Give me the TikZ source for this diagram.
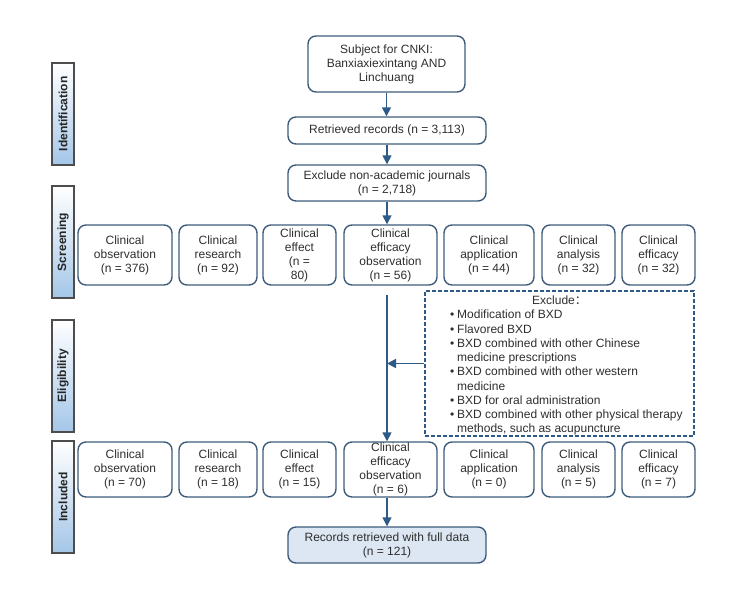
\documentclass[tikz,border=0pt]{standalone}
\usepackage{fontspec}
\setmainfont{Liberation Sans}
\newfontfamily\cjk{Noto Sans CJK SC}
\usetikzlibrary{arrows.meta,calc}
\definecolor{bordc}{HTML}{3E5C7A}
\definecolor{arrc}{HTML}{2E5A87}
\definecolor{txtc}{HTML}{2E2E2E}
\definecolor{fillb}{HTML}{DCE7F3}
\definecolor{labb}{HTML}{A4C6E8}
\definecolor{labd}{HTML}{4D4D4D}
\begin{document}
\begin{tikzpicture}[x=1pt,y=-1pt,
  box/.style={draw=bordc, line width=1.4pt, rounded corners=8pt, align=center,
    inner sep=0pt, text=txtc, font=\fontsize{12}{14}\selectfont},
  srow/.style={box, minimum height=60pt},
  irow/.style={box, minimum height=55pt},
  arr/.style={draw=arrc, line width=1.6pt, -{Triangle[length=9pt,width=9pt]}},
  side/.style={draw=labd, line width=1.4pt, top color=white, bottom color=labb,
    minimum width=22pt, minimum height=112pt, inner sep=0pt,
    font=\bfseries\fontsize{12}{14}\selectfont, text=black!85},
  xtext/.style={inner sep=0pt, text=txtc, font=\fontsize{12}{14.25}\selectfont}]
\useasboundingbox (0,0) rectangle (730,601);

% side labels
\node[side, minimum height=102pt] (lid) at (63,114) {\rotatebox{90}{Identification}};
\node[side] (lsc) at (63,242) {\rotatebox{90}{Screening}};
\node[side] (lel) at (63,376) {\rotatebox{90}{Eligibility}};
\node[side] (lin) at (63,497) {\rotatebox{90}{Included}};

% top chain
\node[box, minimum width=157pt, minimum height=56pt] (subj) at (386.5,64)
  {Subject for CNKI:\\Banxiaxiexintang AND\\Linchuang};
\node[box, minimum width=198pt, minimum height=27pt] (ret) at (387,130.5)
  {Retrieved records (n = 3,113)};
\node[box, minimum width=198pt, minimum height=36pt] (exc) at (387,183)
  {Exclude non-academic journals\\(n = 2,718)};

% screening row
\node[srow, minimum width=94pt] (s1) at (125,255) {Clinical\\observation\\(n = 376)};
\node[srow, minimum width=78pt] (s2) at (218,255) {Clinical\\research\\(n = 92)};
\node[srow, minimum width=73pt] (s3) at (299.5,255) {Clinical\\effect\\(n =\\80)};
\node[srow, minimum width=93pt] (s4) at (390.5,255) {Clinical\\efficacy\\observation\\(n = 56)};
\node[srow, minimum width=90pt] (s5) at (489,255) {Clinical\\application\\(n = 44)};
\node[srow, minimum width=73pt] (s6) at (578.5,255) {Clinical\\analysis\\(n = 32)};
\node[srow, minimum width=73pt] (s7) at (658.5,255) {Clinical\\efficacy\\(n = 32)};

% exclusion box
\node[draw=arrc, line width=1.3pt, dash pattern=on 4pt off 2pt,
  minimum width=269pt, minimum height=145pt, inner sep=0pt] (xbox) at (559.5,363.5) {};
\node[xtext] (xtitle) at (559.5,300) {Exclude{\cjk ：}};
\node[xtext, anchor=north west, align=left] (xlist) at (450,310)
  {\makebox[7pt][l]{•}Modification of BXD\\
   \makebox[7pt][l]{•}Flavored BXD\\
   \makebox[7pt][l]{•}BXD combined with other Chinese\\
   \hspace*{7pt}medicine prescriptions\\
   \makebox[7pt][l]{•}BXD combined with other western\\
   \hspace*{7pt}medicine\\
   \makebox[7pt][l]{•}BXD for oral administration\\
   \makebox[7pt][l]{•}BXD combined with other physical therapy\\
   \hspace*{7pt}methods, such as acupuncture};

% included row
\node[irow, minimum width=94pt] (i1) at (125,469.5) {Clinical\\observation\\(n = 70)};
\node[irow, minimum width=78pt] (i2) at (218,469.5) {Clinical\\research\\(n = 18)};
\node[irow, minimum width=73pt] (i3) at (299.5,469.5) {Clinical\\effect\\(n = 15)};
\node[irow, minimum width=93pt] (i4) at (390.5,469.5) {Clinical\\efficacy\\observation\\(n = 6)};
\node[irow, minimum width=90pt] (i5) at (489,469.5) {Clinical\\application\\(n = 0)};
\node[irow, minimum width=73pt] (i6) at (578.5,469.5) {Clinical\\analysis\\(n = 5)};
\node[irow, minimum width=73pt] (i7) at (658.5,469.5) {Clinical\\efficacy\\(n = 7)};

% final box
\node[box, fill=fillb, minimum width=198pt, minimum height=36pt] (fin) at (387,545)
  {Records retrieved with full data\\(n = 121)};

% connectors
\draw[arr] (subj.south) -- (subj.south |- ret.north);
\draw[arr] (ret.south) -- (ret.south |- exc.north);
\draw[arr] (exc.south) -- (exc.south |- s4.north);
\draw[arr, shorten <=9pt] (exc.south |- s4.south) -- (exc.south |- i4.north);
\draw[arr] (xbox.west) -- (xbox.west -| exc.south);
\draw[arr] (exc.south |- i4.south) -- (exc.south |- fin.north);
\end{tikzpicture}
\end{document}
